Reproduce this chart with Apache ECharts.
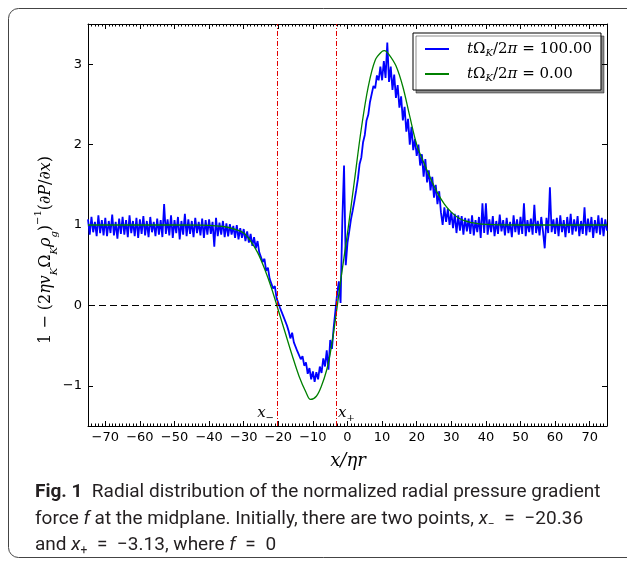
<!DOCTYPE html>
<html>
<head>
<meta charset="utf-8">
<script src="https://cdn.jsdelivr.net/npm/echarts@6/dist/echarts.min.js"></script>
<style>
html, body { margin: 0; padding: 0; background: #fff; }
#chart { width: 627px; height: 561px; }
</style>
</head>
<body>
<div id="chart"></div>
<script>
// tick labels
var xTicks = [-70, -60, -50, -40, -30, -20, -10, 0, 10, 20, 30, 40, 50, 60, 70];
var yTicks = [-1, 0, 1, 2, 3];
// zero points of the initial profile
var xMinus = -20.36;
var xPlus = -3.13;

// t = 100 orbits, sampled every 0.5 from x = -75
var blueStart = -75;
var blueStep = 0.5;
var blueY = [
    1.07, 0.88, 1.10, 0.91, 1.04, 0.86, 1.12, 0.90, 1.06, 0.87,
    1.09, 0.86, 1.05, 0.90, 1.13, 0.87, 1.04, 0.83, 1.08, 0.89,
    1.10, 0.88, 1.06, 0.85, 1.12, 0.90, 1.05, 0.86, 1.09, 0.84,
    1.07, 0.89, 1.11, 0.87, 1.05, 0.85, 1.10, 0.91, 1.04, 0.86,
    1.08, 0.88, 1.06, 0.85, 1.26, 0.89, 1.07, 0.87, 1.12, 0.84,
    1.06, 0.90, 1.10, 0.82, 1.05, 0.88, 1.14, 0.86, 1.07, 0.89,
    1.05, 0.85, 1.09, 0.90, 1.04, 0.87, 1.08, 0.84, 1.06, 0.88,
    1.07, 0.89, 1.04, 0.73, 1.09, 0.86, 1.03, 0.88, 1.05, 0.85,
    1.02, 0.86, 1.01, 0.88, 0.99, 0.84, 1.00, 0.82, 0.96, 0.84,
    0.95, 0.80, 0.92, 0.78, 0.89, 0.74, 0.85, 0.71, 0.80, 0.66,
    0.68, 0.54, 0.58, 0.43, 0.47, 0.33, 0.35, 0.21, 0.24, 0.09,
    0.10, -0.03, -0.01, -0.14, -0.12, -0.25, -0.32, -0.41, -0.34, -0.46,
    -0.45, -0.57, -0.55, -0.67, -0.63, -0.75, -0.71, -0.85, -0.78, -0.92,
    -0.82, -0.95, -0.83, -0.92, -0.76, -0.84, -0.66, -0.76, -0.56, -0.80,
    -0.43, -0.54, -0.28, -0.07, 0.14, 0.30, 0.03, 1.05, 1.74, 0.50,
    0.78, 0.92, 1.07, 1.18, 1.30, 1.43, 1.57, 1.76, 1.84, 2.03,
    2.12, 2.30, 2.37, 2.53, 2.54, 2.73, 2.70, 2.86, 2.80, 2.97,
    2.80, 3.04, 2.83, 3.27, 2.78, 2.97, 2.68, 2.87, 2.58, 2.74,
    2.46, 2.60, 2.30, 2.47, 2.16, 2.32, 2.00, 2.22, 1.93, 2.07,
    1.86, 2.00, 1.74, 1.88, 1.60, 1.82, 1.53, 1.68, 1.43, 1.60,
    1.34, 1.50, 1.26, 1.42, 1.16, 1.00, 1.22, 1.04, 1.20, 1.00,
    1.16, 0.96, 1.14, 0.90, 1.12, 0.93, 1.11, 0.88, 1.09, 0.92,
    1.08, 0.89, 1.12, 0.87, 1.06, 0.91, 1.10, 0.84, 1.27, 0.90,
    1.27, 0.88, 1.07, 0.91, 1.11, 0.86, 1.05, 0.89, 1.13, 0.92,
    1.06, 0.87, 1.09, 0.90, 1.04, 0.85, 1.12, 0.91, 1.07, 0.88,
    1.10, 0.89, 1.27, 0.86, 1.06, 0.91, 1.08, 0.88, 1.25, 0.90,
    1.05, 0.87, 1.10, 0.92, 0.71, 1.09, 0.90, 1.47, 0.91, 1.07,
    0.89, 1.09, 0.86, 1.12, 0.91, 1.06, 0.85, 1.10, 0.90, 1.14,
    0.88, 1.07, 0.92, 1.11, 0.86, 1.05, 0.89, 1.22, 0.87, 1.08,
    0.91, 1.10, 0.84, 1.06, 0.90, 1.12, 0.88, 1.09, 0.86, 1.07,
    0.93
];

// t = 0 initial profile
var greenX = [-75, -50, -42, -38, -35, -32, -30, -28, -26, -24, -22, -20, -18, -16, -14, -12, -10.7, -9, -7.5, -6, -5, -4, -3, -2, 0, 2, 4, 6, 8, 10, 10.7, 12, 14, 16, 18, 20, 22, 24, 26, 28, 30, 32, 34, 36, 38, 40, 44, 50, 75];
var greenY = [1.0, 1.0, 0.998, 0.99, 0.975, 0.94, 0.90, 0.80, 0.66, 0.46, 0.22, -0.06, -0.34, -0.62, -0.88, -1.08, -1.17, -1.13, -1.00, -0.80, -0.60, -0.33, -0.02, 0.30, 0.90, 1.55, 2.2, 2.72, 3.05, 3.16, 3.17, 3.12, 2.98, 2.72, 2.35, 2.0, 1.78, 1.58, 1.40, 1.26, 1.16, 1.09, 1.05, 1.03, 1.015, 1.008, 1.002, 1.0, 1.0];

var blueData = [];
for (var i = 0; i < blueY.length; i++) {
    blueData.push([blueStart + i * blueStep, blueY[i]]);
}
var greenData = [];
for (var j = 0; j < greenX.length; j++) {
    greenData.push([greenX[j], greenY[j]]);
}

var serif = '"DejaVu Serif", "Liberation Serif", serif';
var capFont = 'Roboto';
var capColor = '#231f20';
var redDashDot = { color: '#e00000', width: 1, type: [5, 2, 1, 2] };

function minus(v) { return String(v).replace('-', '\u2212'); }

var myChart = echarts.init(document.getElementById('chart'));

var frameAxis = function(pos, labels) {
    return {
        type: 'value', gridIndex: 0, position: pos, min: -75, max: 75,
        axisLine: { show: true, onZero: false, lineStyle: { color: '#000', width: 1 } },
        axisTick: { show: true, inside: true, length: 5, customValues: xTicks, lineStyle: { color: '#000' } },
        axisLabel: { show: labels, customValues: xTicks, margin: 5, formatter: minus, fontFamily: 'DejaVu Sans', fontSize: 13, color: '#000' },
        splitLine: { show: false }
    };
};
var minorAxis = function(pos) {
    return {
        type: 'value', gridIndex: 1, position: pos, min: -75, max: 75, interval: 1,
        axisLine: { show: false, onZero: false },
        axisTick: { show: true, inside: true, length: 2.5, lineStyle: { color: '#000' } },
        axisLabel: { show: false },
        splitLine: { show: false }
    };
};
var sideAxis = function(pos, labels) {
    return {
        type: 'value', gridIndex: 0, position: pos, min: -1.5, max: 3.5,
        axisLine: { show: true, onZero: false, lineStyle: { color: '#000', width: 1 } },
        axisTick: { show: true, inside: true, length: 5, customValues: yTicks, lineStyle: { color: '#000' } },
        axisLabel: { show: labels, customValues: yTicks, margin: 6, formatter: minus, fontFamily: 'DejaVu Sans', fontSize: 13, color: '#000' },
        splitLine: { show: false }
    };
};
var capRich = {
    n: { fontFamily: capFont, fontSize: 19, fill: capColor, lineHeight: 24 },
    b: { fontFamily: capFont, fontWeight: 'bold', fontSize: 19, fill: capColor, lineHeight: 24 },
    i: { fontFamily: capFont, fontStyle: 'italic', fontSize: 19, fill: capColor, lineHeight: 24 },
    s: { fontFamily: capFont, fontSize: 12, fill: capColor, verticalAlign: 'bottom', lineHeight: 24 }
};
var eq = '\u2002=\u2002';

var option = {
    animation: false,
    grid: [
        { left: 88, top: 24, right: 20, bottom: 135 },
        { left: 88, top: 24, right: 20, bottom: 135 }
    ],
    xAxis: [frameAxis('bottom', true), frameAxis('top', false), minorAxis('bottom'), minorAxis('top')],
    yAxis: [
        sideAxis('left', true),
        sideAxis('right', false),
        { type: 'value', gridIndex: 1, min: -1.5, max: 3.5, show: false, axisLine: { onZero: false } }
    ],
    legend: {
        orient: 'vertical',
        left: 413,
        top: 33,
        padding: [7, 9, 7, 12],
        itemGap: 7,
        itemWidth: 24,
        itemHeight: 2,
        icon: 'rect',
        backgroundColor: '#fff',
        borderColor: '#000',
        borderWidth: 1,
        borderRadius: 0,
        shadowColor: 'rgba(0,0,0,0.45)',
        shadowBlur: 0,
        shadowOffsetX: 3,
        shadowOffsetY: 3,
        data: ['t100', 't0'],
        formatter: function(name) {
            var v = name === 't100' ? '100.00' : '0.00';
            return '{i|t}{r|\u03a9}{s|K}{r|/2}{i|\u03c0}{r| = ' + v + '}';
        },
        textStyle: {
            padding: [0, 0, 0, 13],
            lineHeight: 18,
            rich: {
                i: { fontFamily: serif, fontStyle: 'italic', fontSize: 15, color: '#000', lineHeight: 18 },
                r: { fontFamily: serif, fontSize: 15, color: '#000', lineHeight: 18 },
                s: { fontFamily: serif, fontStyle: 'italic', fontSize: 10, color: '#000', verticalAlign: 'bottom', lineHeight: 18 }
            }
        }
    },
    series: [
        {
            name: 't100',
            type: 'line',
            xAxisIndex: 0,
            yAxisIndex: 0,
            data: blueData,
            showSymbol: false,
            sampling: null,
            lineStyle: { color: '#0000ff', width: 1.8 },
            itemStyle: { color: '#0000ff' },
            z: 2
        },
        {
            name: 't0',
            type: 'line',
            xAxisIndex: 0,
            yAxisIndex: 0,
            data: greenData,
            smooth: 0.35,
            showSymbol: false,
            lineStyle: { color: '#008000', width: 1.3 },
            itemStyle: { color: '#008000' },
            z: 3,
            markLine: {
                silent: true,
                symbol: 'none',
                label: { show: false },
                lineStyle: { color: '#000', width: 1, type: [7, 4] },
                data: [{ yAxis: 0 }]
            }
        },
        {
            name: 'zeros',
            type: 'line',
            xAxisIndex: 0,
            yAxisIndex: 0,
            data: [],
            color: '#e00000',
            itemStyle: { color: '#e00000' },
            lineStyle: { color: '#e00000' },
            z: 4,
            markLine: {
                silent: true,
                symbol: 'none',
                label: { show: false },
                itemStyle: { color: '#e00000' },
                lineStyle: redDashDot,
                data: [
                    { xAxis: xMinus, lineStyle: redDashDot },
                    { xAxis: xPlus, lineStyle: redDashDot }
                ]
            }
        }
    ],
    graphic: [
        {
            type: 'rect', x: 8.5, y: 8.5, silent: true,
            shape: { x: 0, y: 0, width: 640, height: 549, r: 10 },
            style: { fill: 'none', stroke: '#444', lineWidth: 1 }
        },
        {
            type: 'text', x: 46, y: 250, rotation: Math.PI / 2,
            style: {
                text: '{r|1 \u2212 (2}{i|\u03b7v}{s|K}{r|\u03a9}{s|K}{i|\u03c1}{s|g}{r|)}{p|\u22121}{r|(\u2202}{i|P}{r|/\u2202}{i|x}{r|)}',
                align: 'center', verticalAlign: 'middle',
                rich: {
                    r: { fontFamily: serif, fontSize: 16, fill: '#000', lineHeight: 26 },
                    i: { fontFamily: serif, fontStyle: 'italic', fontSize: 16, fill: '#000', lineHeight: 26 },
                    s: { fontFamily: serif, fontStyle: 'italic', fontSize: 10, fill: '#000', verticalAlign: 'bottom', lineHeight: 26 },
                    p: { fontFamily: serif, fontSize: 10, fill: '#000', verticalAlign: 'top', lineHeight: 26 }
                }
            }
        },
        {
            type: 'text', x: 348, y: 461,
            style: {
                text: 'x/\u03b7r', align: 'center', verticalAlign: 'middle',
                fontFamily: serif, fontStyle: 'italic', fontSize: 18, fill: '#000'
            }
        },
        {
            type: 'text', x: 274, y: 413,
            style: {
                text: '{i|x}{s|\u2212}', align: 'right', verticalAlign: 'middle',
                rich: {
                    i: { fontFamily: serif, fontStyle: 'italic', fontSize: 15, fill: '#000', lineHeight: 20 },
                    s: { fontFamily: serif, fontSize: 10, fill: '#000', verticalAlign: 'bottom', lineHeight: 20 }
                }
            }
        },
        {
            type: 'text', x: 338, y: 413,
            style: {
                text: '{i|x}{s|+}', align: 'left', verticalAlign: 'middle',
                rich: {
                    i: { fontFamily: serif, fontStyle: 'italic', fontSize: 15, fill: '#000', lineHeight: 20 },
                    s: { fontFamily: serif, fontSize: 10, fill: '#000', verticalAlign: 'bottom', lineHeight: 20 }
                }
            }
        },
        {
            type: 'text', x: 35, y: 492,
            style: {
                text: '{b|Fig. 1}{n|  Radial distribution of the normalized radial pressure gradient}',
                verticalAlign: 'middle',
                rich: capRich
            }
        },
        {
            type: 'text', x: 35, y: 519,
            style: {
                text: '{n|force }{i|f}{n| at the midplane. Initially, there are two points, }{i|x}{s|\u2212}{n|' + eq + '\u221220.36}',
                verticalAlign: 'middle',
                rich: capRich
            }
        },
        {
            type: 'text', x: 35, y: 545,
            style: {
                text: '{n|and }{i|x}{s|+}{n|' + eq + '\u22123.13, where }{i|f}{n|' + eq + '0}',
                verticalAlign: 'middle',
                rich: capRich
            }
        }
    ]
};
myChart.setOption(option);
</script>
</body>
</html>
